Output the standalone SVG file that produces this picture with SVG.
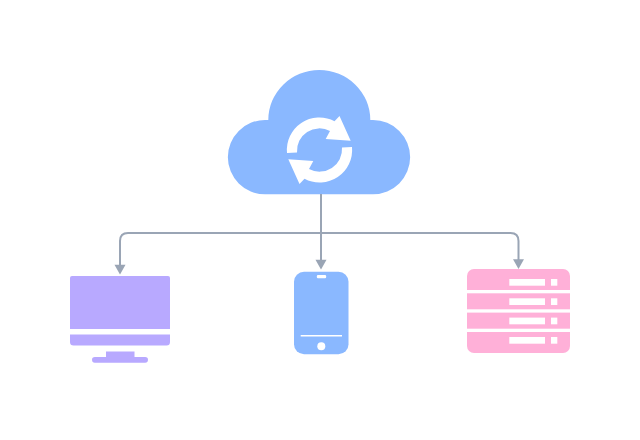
<svg xmlns="http://www.w3.org/2000/svg" width="640" height="440" viewBox="0 0 640 440">
<style>
.blue{fill:#8ab8ff}.purple{fill:#b8a9ff}.pink{fill:#ffb0d8}.w{fill:#fff}
.conn{fill:none;stroke:#9aa5b5;stroke-width:2}
.head{fill:#9aa5b5}
</style>
<rect width="640" height="440" fill="#fff"/>
<g id="cloud">
<path class="blue" d="M265 194.300a37.150 37.150 0 0 1 0-74.300h3.300a51 50 0 0 1 102 0h2.700a37.150 37.150 0 0 1 0 74.300z"/>
<path id="sync" class="w" d="M287 153A32.500 32.500 0 0 1 334.500 121.200L339.500 116L350.700 140.700L325.700 139L330 131A22.500 22.500 0 0 0 297 152.500Z"/>
<use href="#sync" transform="rotate(180 319.500 150)"/>
</g>
<g id="connectors">
<path class="conn" d="M321 194V262"/>
<path class="conn" d="M120 267V241Q120 233 128 233H510.500Q518.500 233 518.500 241V261"/>
<polygon class="head" points="114.500,264.800 125.500,264.800 120,274.500"/>
<polygon class="head" points="315.500,259.800 326.500,259.800 321,269.500"/>
<polygon class="head" points="513,259.300 524,259.300 518.500,269"/>
</g>
<g id="monitor">
<path class="purple" d="M72 276H168a2 2 0 0 1 2 2V329H70V278a2 2 0 0 1 2-2z"/>
<path class="purple" d="M70 334.500H170V342a3.500 3.500 0 0 1-3.500 3.500H73.500A3.500 3.500 0 0 1 70 342z"/>
<rect class="purple" x="106" y="351.500" width="28.500" height="7"/>
<rect class="purple" x="92" y="357" width="56" height="5.700" rx="2.850"/>
</g>
<g id="phone">
<rect class="blue" x="294" y="271.800" width="54.500" height="82.500" rx="10"/>
<rect class="w" x="316.800" y="275" width="9.400" height="3.200" rx="1.200"/>
<rect class="w" x="300.700" y="335" width="41.300" height="1.500"/>
<circle class="w" cx="321.300" cy="346.300" r="4"/>
</g>
<g id="server">
<rect class="pink" x="467" y="269" width="103" height="84" rx="7"/>
<rect class="w" x="467" y="290" width="103" height="3.300"/>
<rect class="w" x="467" y="309.300" width="103" height="3.300"/>
<rect class="w" x="467" y="328.700" width="103" height="3.300"/>
<rect class="w" x="509.300" y="279" width="35.700" height="6.700"/>
<rect class="w" x="551" y="279" width="6.300" height="6.700"/>
<rect class="w" x="509.300" y="298.300" width="35.700" height="6.700"/>
<rect class="w" x="551" y="298.300" width="6.300" height="6.700"/>
<rect class="w" x="509.300" y="317.600" width="35.700" height="6.700"/>
<rect class="w" x="551" y="317.600" width="6.300" height="6.700"/>
<rect class="w" x="509.300" y="337" width="35.700" height="6.700"/>
<rect class="w" x="551" y="337" width="6.300" height="6.700"/>
</g>
</svg>
